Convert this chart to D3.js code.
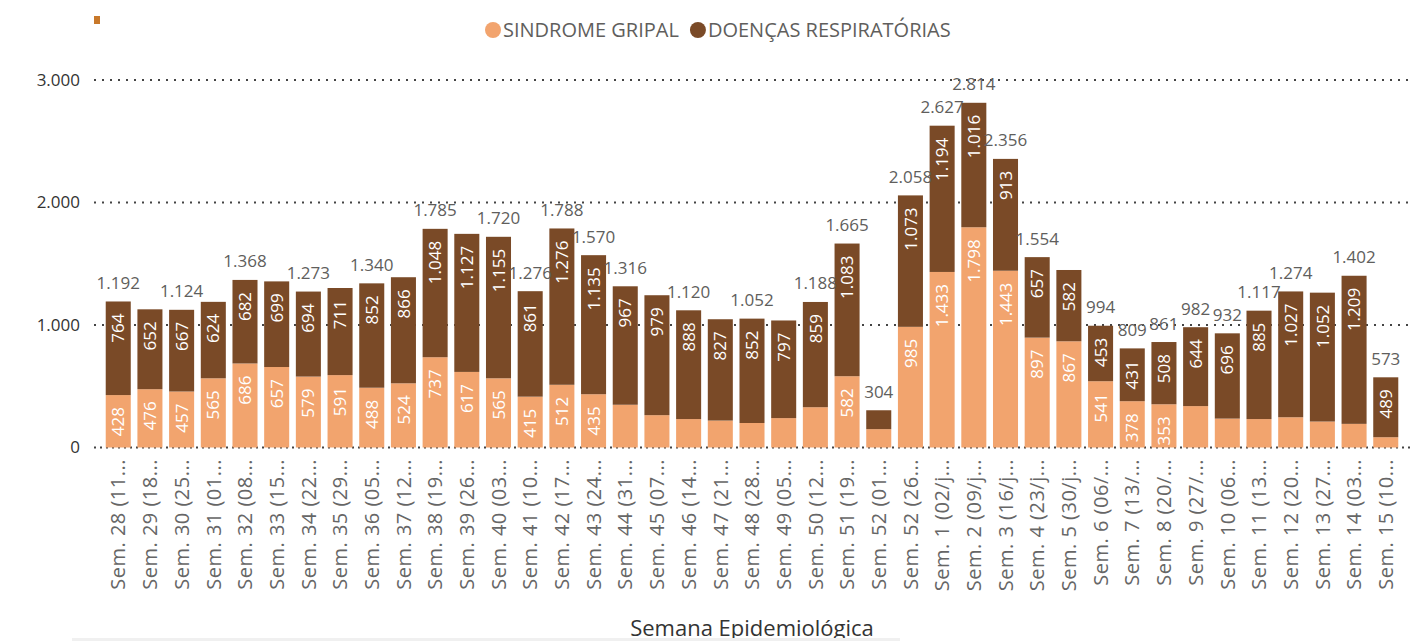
<!DOCTYPE html>
<html>
<head>
<meta charset="utf-8">
<script src="https://cdn.jsdelivr.net/npm/d3@7"></script>
<style>
  body { margin: 0; background: #fff; }
  text { font-family: "Segoe UI", "Open Sans", sans-serif; }
</style>
</head>
<body>
<div id="canvas"></div>
<script>
"use strict"

/* Chart data */
let categories = [
    "Sem. 28 (11...", "Sem. 29 (18...", "Sem. 30 (25...", "Sem. 31 (01...", "Sem. 32 (08...",
    "Sem. 33 (15...", "Sem. 34 (22...", "Sem. 35 (29...", "Sem. 36 (05...", "Sem. 37 (12...",
    "Sem. 38 (19...", "Sem. 39 (26...", "Sem. 40 (03...", "Sem. 41 (10...", "Sem. 42 (17...",
    "Sem. 43 (24...", "Sem. 44 (31...", "Sem. 45 (07...", "Sem. 46 (14...", "Sem. 47 (21...",
    "Sem. 48 (28...", "Sem. 49 (05...", "Sem. 50 (12...", "Sem. 51 (19...", "Sem. 52 (01...",
    "Sem. 52 (26...", "Sem. 1 (02/j...", "Sem. 2 (09/j...", "Sem. 3 (16/j...", "Sem. 4 (23/j...",
    "Sem. 5 (30/j...", "Sem. 6 (06/...", "Sem. 7 (13/...", "Sem. 8 (20/...", "Sem. 9 (27/...",
    "Sem. 10 (06...", "Sem. 11 (13...", "Sem. 12 (20...", "Sem. 13 (27...", "Sem. 14 (03...",
    "Sem. 15 (10..."
];

let sindromeGripal = [
    428, 476, 457, 565, 686, 657, 579, 591, 488, 524,
    737, 617, 565, 415, 512, 435, 349, 264, 232, 220,
    200, 240, 329, 582, 150, 985, 1433, 1798, 1443, 897,
    867, 541, 378, 353, 338, 236, 232, 247, 212, 193,
    84
];

let doencasRespiratorias = [
    764, 652, 667, 624, 682, 699, 694, 711, 852, 866,
    1048, 1127, 1155, 861, 1276, 1135, 967, 979, 888, 827,
    852, 797, 859, 1083, 154, 1073, 1194, 1016, 913, 657,
    582, 453, 431, 508, 644, 696, 885, 1027, 1052, 1209,
    489
];

let seriesNames = ["SINDROME GRIPAL", "DOENÇAS RESPIRATÓRIAS"];
let seriesColors = ["#F2A46E", "#7A4A27"];
let yTicks = [0, 1000, 2000, 3000];

let width = 1410;
let height = 641;

let ptBR = d3.formatLocale({decimal: ",", thousands: ".", grouping: [3], currency: ["R$", ""]});
let fmt = ptBR.format(",d");

let drawing = d3.select("#canvas")
    .append("svg")
    .attr("width", width)
    .attr("height", height);

/* scales */
let x = d3.scaleBand()
    .domain(categories)
    .range([94, 1410])
    .paddingInner(0.21)
    .paddingOuter(0.37);

let y = d3.scaleLinear()
    .domain([0, 3000])
    .range([447.5, 80]);

/* legend */
let legendMark = drawing.append("rect")
    .attr("x", 94)
    .attr("y", 16)
    .attr("width", 6)
    .attr("height", 8)
    .attr("fill", "#C8782A");

let legendX = 493;
seriesNames.forEach(function (name, i) {
    drawing.append("circle")
        .attr("cx", legendX)
        .attr("cy", 30)
        .attr("r", 8)
        .attr("fill", seriesColors[i]);
    let t = drawing.append("text")
        .attr("x", legendX + 10)
        .attr("y", 37)
        .attr("font-size", 20)
        .attr("fill", "#605E5C")
        .text(name);
    legendX += 10 + t.node().getComputedTextLength() + 19;
});

/* gridlines */
let grid = drawing.append("g");
yTicks.forEach(function (v) {
    grid.append("line")
        .attr("x1", 94)
        .attr("x2", 1410)
        .attr("y1", y(v))
        .attr("y2", y(v))
        .attr("stroke", "#444")
        .attr("stroke-width", 2)
        .attr("stroke-dasharray", v === 0 ? "2,4" : "2,6");
});

/* y axis */
let yAxis = drawing.append("g")
    .attr("transform", "translate(80,0)")
    .call(d3.axisLeft(y).tickValues(yTicks).tickFormat(fmt).tickSize(0).tickPadding(0));
yAxis.select(".domain").remove();
yAxis.selectAll("text")
    .attr("font-size", 17)
    .attr("font-family", "\"Segoe UI\", \"Open Sans\", sans-serif")
    .attr("fill", "#333");

/* stacked bars */
let rows = categories.map(function (c, i) {
    return {cat: c, gripal: sindromeGripal[i], resp: doencasRespiratorias[i]};
});
let stack = d3.stack().keys(["gripal", "resp"]);
let layers = stack(rows);

let barGroups = drawing.append("g")
    .selectAll("g")
    .data(layers)
    .join("g")
    .attr("fill", function (d, i) { return seriesColors[i]; });

barGroups.selectAll("rect")
    .data(function (d) { return d; })
    .join("rect")
    .attr("x", function (d) { return x(d.data.cat); })
    .attr("y", function (d) { return y(d[1]); })
    .attr("width", x.bandwidth())
    .attr("height", function (d) { return y(d[0]) - y(d[1]); });

/* labels inside segments, at the inside end */
let segLabels = drawing.append("g");
layers.forEach(function (layer) {
    layer.forEach(function (d) {
        let h = y(d[0]) - y(d[1]);
        if (h < 43) return;
        let cx = x(d.data.cat) + x.bandwidth() / 2;
        let top = y(d[1]) + 12;
        segLabels.append("text")
            .attr("transform", "translate(" + cx + "," + top + ") rotate(-90)")
            .attr("text-anchor", "end")
            .attr("dy", "0.36em")
            .attr("font-size", 17)
            .attr("fill", "#fff")
            .text(fmt(d[1] - d[0]));
    });
});

/* total labels, skipped when they collide with the previous one */
let totals = drawing.append("g");
let lastBox = null;
rows.forEach(function (r) {
    let total = r.gripal + r.resp;
    let cx = x(r.cat) + x.bandwidth() / 2;
    let base = y(total) - 12.5;
    let t = totals.append("text")
        .attr("x", cx)
        .attr("y", base)
        .attr("text-anchor", "middle")
        .attr("font-size", 17)
        .attr("fill", "#605E5C")
        .text(fmt(total));
    let w = t.node().getComputedTextLength();
    let box = {x0: cx - w / 2, x1: cx + w / 2, y0: base - 14, y1: base};
    if (lastBox && box.x0 < lastBox.x1 && box.x1 > lastBox.x0 && box.y0 < lastBox.y1 && box.y1 > lastBox.y0) {
        t.remove();
    } else {
        lastBox = box;
    }
});

/* x axis labels */
let xLabels = drawing.append("g");
categories.forEach(function (c) {
    xLabels.append("text")
        .attr("transform", "translate(" + (x(c) + x.bandwidth() / 2) + ",459) rotate(-90)")
        .attr("text-anchor", "end")
        .attr("dy", "0.36em")
        .attr("font-size", 20)
        .attr("letter-spacing", 0.5)
        .attr("fill", "#666")
        .text(c);
});

/* x axis title */
let xTitle = drawing.append("text")
    .attr("x", 752)
    .attr("y", 636)
    .attr("text-anchor", "middle")
    .attr("font-family", "Roboto, sans-serif")
    .attr("font-size", 22)
    .attr("fill", "#333")
    .text("Semana Epidemiológica");

/* scroll bar line at the bottom */
let scrollLine = drawing.append("rect")
    .attr("x", 72)
    .attr("y", 638)
    .attr("width", 828)
    .attr("height", 3)
    .attr("fill", "#f0f0f0");
</script>
</body>
</html>
